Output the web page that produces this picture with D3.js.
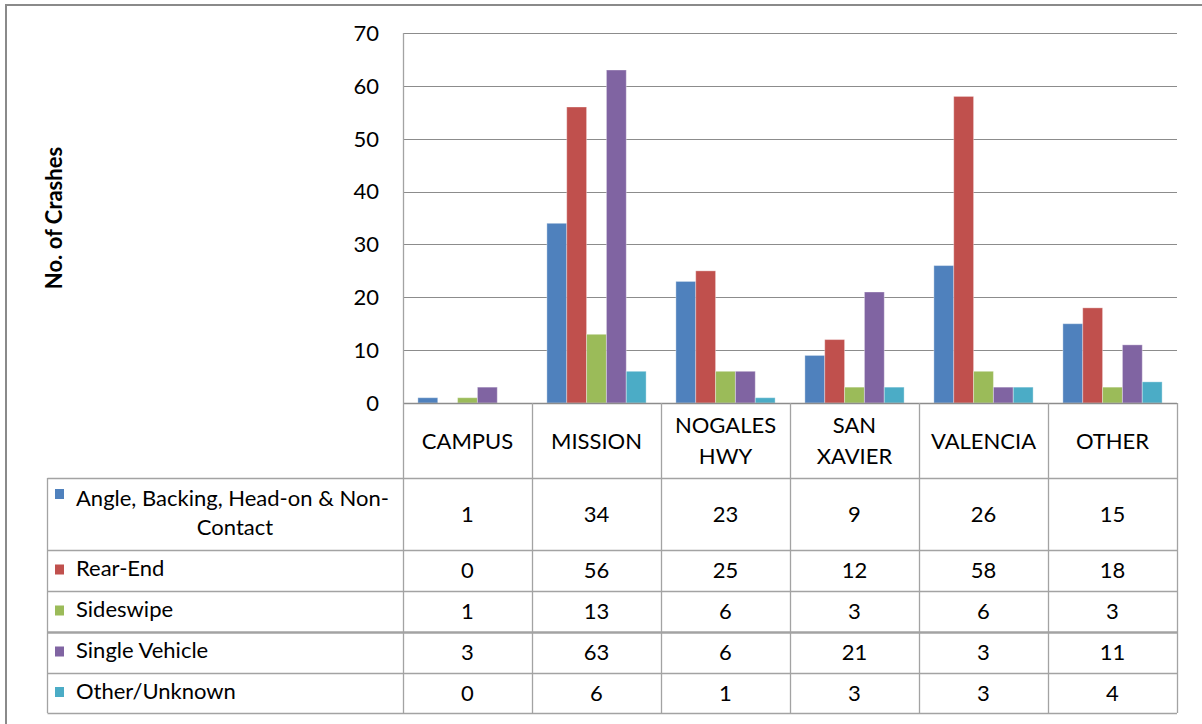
<!DOCTYPE html>
<html>
<head>
<meta charset="utf-8">
<script src="https://cdn.jsdelivr.net/npm/d3@7"></script>
<style>
  body { margin: 0; background: #fff; }
  svg text { font-family: Lato, "Open Sans", sans-serif; fill: #000; }
</style>
</head>
<body>
<svg id="chart" width="1202" height="724"></svg>
<script>
// Crash counts by corridor, clustered columns with a data table underneath.

const categories = ['CAMPUS', 'MISSION', 'NOGALES HWY', 'SAN XAVIER', 'VALENCIA', 'OTHER'];
const headerLines = [['CAMPUS'], ['MISSION'], ['NOGALES', 'HWY'], ['SAN', 'XAVIER'], ['VALENCIA'], ['OTHER']];

const seriesNames = ['Angle, Backing, Head-on & Non-Contact', 'Rear-End', 'Sideswipe', 'Single Vehicle', 'Other/Unknown'];
const angleVals = [1, 34, 23, 9, 26, 15];
const rearVals = [0, 56, 25, 12, 58, 18];
const sideVals = [1, 13, 6, 3, 6, 3];
const singleVals = [3, 63, 6, 21, 3, 11];
const otherVals = [0, 6, 1, 3, 3, 4];
const seriesValues = [angleVals, rearVals, sideVals, singleVals, otherVals];

const yTicks = [0, 10, 20, 30, 40, 50, 60, 70];
const colors = ['#4F81BD', '#C0504D', '#9BBB59', '#8064A2', '#4BACC6'];

const svg = d3.select('#chart');

// outer frame (clipped at right / bottom edge of the picture)
svg.append('path')
  .attr('d', 'M6,726 L6,5 L1204,5')
  .attr('fill', 'none')
  .attr('stroke', '#8a8a8a')
  .attr('stroke-width', 2);

// plot area
const plotLeft = 403, plotRight = 1177, plotTop = 33, plotBottom = 403;

const x = d3.scaleBand().domain(categories).range([plotLeft, plotRight]);
const x1 = d3.scaleBand()
  .domain(d3.range(seriesNames.length))
  .range([0, x.bandwidth()])
  .paddingInner(0)
  .paddingOuter(0.75);
const y = d3.scaleLinear().domain([0, 70]).range([plotBottom, plotTop]);

// gridlines
svg.append('g')
  .selectAll('line')
  .data(yTicks)
  .join('line')
  .attr('x1', plotLeft)
  .attr('x2', plotRight)
  .attr('y1', d => Math.round(y(d)) + 0.5)
  .attr('y2', d => Math.round(y(d)) + 0.5)
  .attr('stroke', '#8c8c8c')
  .attr('stroke-width', 1.2);

// y axis labels
svg.append('g')
  .selectAll('text')
  .data(yTicks)
  .join('text')
  .attr('x', 379)
  .attr('y', d => y(d))
  .attr('dy', '0.36em')
  .attr('text-anchor', 'end')
  .attr('font-size', 22)
  .text(d => d);

// y axis title
svg.append('text')
  .attr('transform', 'translate(62,218) rotate(-90)')
  .attr('text-anchor', 'middle')
  .attr('font-size', 22)
  .attr('font-weight', 'bold')
  .text('No. of Crashes');

// bars
const groups = svg.append('g')
  .selectAll('g')
  .data(seriesNames)
  .join('g')
  .attr('fill', (d, i) => colors[i]);

groups.each(function (name, si) {
  d3.select(this)
    .selectAll('rect')
    .data(seriesValues[si])
    .join('rect')
    .attr('x', (v, ci) => x(categories[ci]) + x1(si))
    .attr('width', x1.bandwidth())
    .attr('y', v => y(v))
    .attr('height', v => plotBottom - y(v))
    .attr('stroke', 'rgba(255,255,255,0.35)')
    .attr('stroke-width', 1);
});

// data table
const tableLeft = 47.5;
const rowEdges = [403, 478, 550, 591, 632, 673, 713];
const lineColor = '#a3a3a3';
const table = svg.append('g');

// horizontal rules (header bottom and below)
rowEdges.slice(1).forEach(ry => {
  table.append('line')
    .attr('x1', tableLeft).attr('x2', plotRight)
    .attr('y1', ry + 0.5).attr('y2', ry + 0.5)
    .attr('stroke', lineColor)
    .attr('stroke-width', ry === 632 ? 2.5 : 1.3);
});

// axis line across the header top
table.append('line')
  .attr('x1', plotLeft).attr('x2', plotRight)
  .attr('y1', plotBottom + 0.5).attr('y2', plotBottom + 0.5)
  .attr('stroke', '#8c8c8c')
  .attr('stroke-width', 1.3);

// vertical rules: value axis line + category separators
table.append('line')
  .attr('x1', plotLeft + 0.5).attr('x2', plotLeft + 0.5)
  .attr('y1', plotTop).attr('y2', 713)
  .attr('stroke', lineColor)
  .attr('stroke-width', 1.3);
categories.forEach(c => {
  const cx = Math.round(x(c) + x.bandwidth());
  table.append('line')
    .attr('x1', cx + 0.5).attr('x2', cx + 0.5)
    .attr('y1', plotBottom).attr('y2', 713)
    .attr('stroke', lineColor)
    .attr('stroke-width', 1.3);
});
table.append('line')
  .attr('x1', tableLeft).attr('x2', tableLeft)
  .attr('y1', 478).attr('y2', 713)
  .attr('stroke', lineColor)
  .attr('stroke-width', 1.3);

// header labels
headerLines.forEach((lines, ci) => {
  const cx = x(categories[ci]) + x.bandwidth() / 2;
  const cy = 441;
  const lh = 31;
  lines.forEach((ln, li) => {
    table.append('text')
      .attr('x', cx)
      .attr('y', cy + (li - (lines.length - 1) / 2) * lh)
      .attr('dy', '0.36em')
      .attr('text-anchor', 'middle')
      .attr('font-size', 22)
      .text(ln);
  });
});

// row labels with legend keys, and the values
seriesNames.forEach((name, si) => {
  const rTop = rowEdges[si + 1];
  const rBot = rowEdges[si + 2];
  const cy = (rTop + rBot) / 2;

  if (si === 0) {
    table.append('rect')
      .attr('x', 55).attr('y', 494 - 5)
      .attr('width', 9).attr('height', 10)
      .attr('fill', colors[si]);
    table.append('text')
      .attr('x', 76).attr('y', 498).attr('dy', '0.36em')
      .attr('font-size', 22)
      .text('Angle, Backing, Head-on & Non-');
    table.append('text')
      .attr('x', 235).attr('y', 527).attr('dy', '0.36em')
      .attr('text-anchor', 'middle')
      .attr('font-size', 22)
      .text('Contact');
  } else {
    table.append('rect')
      .attr('x', 55).attr('y', cy - 6)
      .attr('width', 9).attr('height', 10)
      .attr('fill', colors[si]);
    table.append('text')
      .attr('x', 76).attr('y', cy - 2).attr('dy', '0.36em')
      .attr('font-size', 22)
      .text(name);
  }

  seriesValues[si].forEach((v, ci) => {
    table.append('text')
      .attr('x', x(categories[ci]) + x.bandwidth() / 2)
      .attr('y', cy)
      .attr('dy', '0.36em')
      .attr('text-anchor', 'middle')
      .attr('font-size', 22)
      .text(v);
  });
});
</script>
</body>
</html>
